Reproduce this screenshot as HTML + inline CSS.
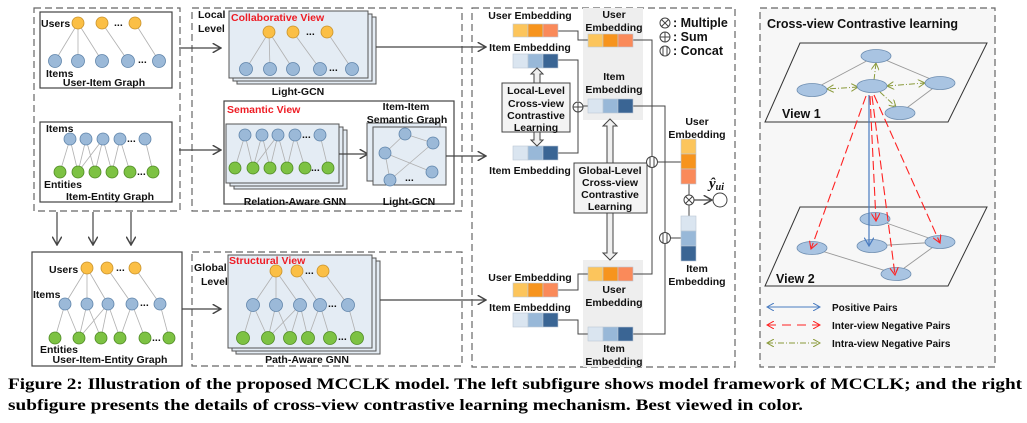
<!DOCTYPE html>
<html><head><meta charset="utf-8"><style>
html,body{margin:0;padding:0;background:#fff;}
svg{display:block;}
text{font-family:"Liberation Sans",sans-serif;font-weight:bold;font-size:10.5px;fill:#111;}
.r{fill:#ee1c24;}
.cap{font-family:"Liberation Serif",serif;font-size:16px;fill:#000;}
.u{fill:#fbbf45;stroke:#c8922c;stroke-width:.8}
.i{fill:#9bb9d8;stroke:#5f84aa;stroke-width:.8}
.e{fill:#7dc243;stroke:#4f8a24;stroke-width:.8}
.ed line{stroke:#b0b0b0;stroke-width:.8}
.dash{fill:none;stroke:#666;stroke-width:1.2;stroke-dasharray:7,4}
.bx{fill:#fff;stroke:#444;stroke-width:1.2}
.st{fill:#e4ecf4;stroke:#555;stroke-width:1}
.ln{fill:none;stroke:#444;stroke-width:1.2}
.c1{fill:#fcc55c}.c2{fill:#f7941d}.c3{fill:#fa8a5a}
.b1{fill:#dae5f0}.b2{fill:#98b8d8}.b3{fill:#3a6594}
</style></head><body>
<svg width="1027" height="423" viewBox="0 0 1027 423" xmlns="http://www.w3.org/2000/svg">
<defs>
<marker id="ar" markerWidth="8" markerHeight="8" refX="7" refY="4" orient="auto"><path d="M0,0 L7,4 L0,8" fill="none" stroke="#444" stroke-width="1.2"/></marker>
<marker id="arb" markerWidth="8" markerHeight="8" refX="7" refY="4" orient="auto-start-reverse"><path d="M0,0 L7,4 L0,8" fill="none" stroke="#4a7cc0" stroke-width="1"/></marker>
<marker id="arr" markerWidth="8" markerHeight="8" refX="7" refY="4" orient="auto-start-reverse"><path d="M0,0 L7,4 L0,8" fill="none" stroke="#f22" stroke-width="1"/></marker>
<marker id="arg" markerWidth="8" markerHeight="8" refX="7" refY="4" orient="auto-start-reverse"><path d="M0,0 L7,4 L0,8" fill="none" stroke="#8a9a3a" stroke-width="1"/></marker>
</defs>

<rect class="dash" x="34" y="8" width="146" height="203"/>
<rect class="bx" x="40" y="12" width="132" height="76"/>
<g class="ed">
<line x1="78" y1="23" x2="55" y2="61"/><line x1="78" y1="23" x2="78" y2="61"/><line x1="78" y1="23" x2="102" y2="61"/>
<line x1="102" y1="23" x2="128" y2="61"/><line x1="135" y1="23" x2="159" y2="61"/>
</g>
<circle class="u" cx="78" cy="23" r="6"/><circle class="u" cx="102" cy="23" r="6"/><circle class="u" cx="135" cy="23" r="6"/>
<text x="114" y="26">...</text>
<circle class="i" cx="55" cy="61" r="6.5"/><circle class="i" cx="78" cy="61" r="6.5"/><circle class="i" cx="102" cy="61" r="6.5"/><circle class="i" cx="128" cy="61" r="6.5"/><circle class="i" cx="159" cy="61" r="6.5"/>
<text x="138" y="63">...</text>
<text x="41" y="27">Users</text><text x="46" y="77">Items</text>
<text x="104" y="86" text-anchor="middle">User-Item Graph</text>

<rect class="bx" x="40" y="122" width="132" height="80"/>
<g class="ed">
<line x1="70" y1="139" x2="60" y2="172"/><line x1="70" y1="139" x2="78" y2="172"/><line x1="86" y1="139" x2="78" y2="172"/><line x1="86" y1="139" x2="95" y2="172"/>
<line x1="103" y1="139" x2="78" y2="172"/><line x1="103" y1="139" x2="112" y2="172"/><line x1="103" y1="139" x2="95" y2="172"/><line x1="120" y1="139" x2="112" y2="172"/><line x1="120" y1="139" x2="130" y2="172"/><line x1="145" y1="139" x2="153" y2="172"/>
</g>
<circle class="i" cx="70" cy="139" r="6"/><circle class="i" cx="86" cy="139" r="6"/><circle class="i" cx="103" cy="139" r="6"/><circle class="i" cx="120" cy="139" r="6"/><circle class="i" cx="145" cy="139" r="6"/>
<text x="127" y="142">...</text>
<circle class="e" cx="60" cy="172" r="6"/><circle class="e" cx="78" cy="172" r="6"/><circle class="e" cx="95" cy="172" r="6"/><circle class="e" cx="112" cy="172" r="6"/><circle class="e" cx="130" cy="172" r="6"/><circle class="e" cx="153" cy="172" r="6"/>
<text x="137" y="175">...</text>
<text x="46" y="132">Items</text><text x="44" y="188">Entities</text>
<text x="110" y="200" text-anchor="middle">Item-Entity Graph</text>

<line class="ln" x1="57" y1="212" x2="57" y2="245" marker-end="url(#ar)"/>
<line class="ln" x1="93" y1="212" x2="93" y2="245" marker-end="url(#ar)"/>
<line class="ln" x1="131" y1="212" x2="131" y2="245" marker-end="url(#ar)"/>

<rect class="dash" x="192" y="8" width="270" height="203"/>
<text x="198" y="18">Local</text><text x="198" y="32">Level</text>
<line class="ln" x1="179" y1="48" x2="221" y2="48" marker-end="url(#ar)"/>
<rect class="st" x="237" y="17" width="139" height="67"/>
<rect class="st" x="233" y="14" width="139" height="67"/>
<rect class="st" x="229" y="11" width="139" height="67"/>
<text class="r" x="231" y="21">Collaborative View</text>
<g class="ed">
<line x1="269" y1="32" x2="246" y2="69"/><line x1="269" y1="32" x2="270" y2="69"/><line x1="269" y1="32" x2="293" y2="69"/><line x1="293" y1="32" x2="320" y2="69"/><line x1="327" y1="32" x2="352" y2="69"/>
</g>
<circle class="u" cx="269" cy="32" r="6"/><circle class="u" cx="293" cy="32" r="6"/><circle class="u" cx="327" cy="32" r="6"/>
<text x="306" y="35">...</text>
<circle class="i" cx="246" cy="69" r="6.5"/><circle class="i" cx="270" cy="69" r="6.5"/><circle class="i" cx="293" cy="69" r="6.5"/><circle class="i" cx="320" cy="69" r="6.5"/><circle class="i" cx="352" cy="69" r="6.5"/>
<text x="329" y="71">...</text>
<text x="298" y="95" text-anchor="middle">Light-GCN</text>
<line class="ln" x1="376" y1="47" x2="486" y2="47" marker-end="url(#ar)"/>

<line class="ln" x1="179" y1="150" x2="221" y2="150" marker-end="url(#ar)"/>
<rect class="bx" x="224" y="101" width="230" height="103"/>
<text class="r" x="227" y="113">Semantic View</text>
<rect class="st" x="234" y="130" width="113" height="59"/>
<rect class="st" x="230" y="127" width="113" height="59"/>
<rect class="st" x="226" y="124" width="113" height="59"/>
<g class="ed">
<line x1="245" y1="135" x2="235" y2="168"/><line x1="245" y1="135" x2="253" y2="168"/><line x1="262" y1="135" x2="253" y2="168"/><line x1="262" y1="135" x2="270" y2="168"/><line x1="278" y1="135" x2="253" y2="168"/><line x1="278" y1="135" x2="287" y2="168"/><line x1="278" y1="135" x2="270" y2="168"/><line x1="295" y1="135" x2="287" y2="168"/><line x1="295" y1="135" x2="305" y2="168"/><line x1="320" y1="135" x2="328" y2="168"/>
</g>
<circle class="i" cx="245" cy="135" r="6"/><circle class="i" cx="262" cy="135" r="6"/><circle class="i" cx="278" cy="135" r="6"/><circle class="i" cx="295" cy="135" r="6"/><circle class="i" cx="320" cy="135" r="6"/>
<text x="302" y="138">...</text>
<circle class="e" cx="235" cy="168" r="6"/><circle class="e" cx="253" cy="168" r="6"/><circle class="e" cx="270" cy="168" r="6"/><circle class="e" cx="287" cy="168" r="6"/><circle class="e" cx="305" cy="168" r="6"/><circle class="e" cx="328" cy="168" r="6"/>
<text x="311" y="171">...</text>
<text x="295" y="205" text-anchor="middle">Relation-Aware GNN</text>
<line class="ln" x1="339" y1="154" x2="368" y2="154" marker-end="url(#ar)"/>
<rect class="st" x="367" y="123" width="73" height="58"/>
<rect class="st" x="373" y="127" width="73" height="58"/>
<g class="ed">
<line x1="405" y1="134" x2="385" y2="153"/><line x1="405" y1="134" x2="433" y2="143"/><line x1="385" y1="153" x2="432" y2="172"/><line x1="385" y1="153" x2="390" y2="180"/><line x1="433" y1="143" x2="390" y2="180"/>
</g>
<circle class="i" cx="405" cy="134" r="6"/><circle class="i" cx="433" cy="143" r="6"/><circle class="i" cx="385" cy="153" r="6"/><circle class="i" cx="432" cy="172" r="6"/><circle class="i" cx="390" cy="180" r="6"/>
<text x="405" y="181">...</text>
<text x="406" y="110" text-anchor="middle">Item-Item</text>
<text x="407" y="123" text-anchor="middle">Semantic Graph</text>
<text x="409" y="205" text-anchor="middle">Light-GCN</text>
<line class="ln" x1="446" y1="156" x2="486" y2="156" marker-end="url(#ar)"/>

<rect class="bx" x="32" y="252" width="150" height="114"/>
<g class="ed">
<line x1="87" y1="268" x2="65" y2="304"/><line x1="87" y1="268" x2="87" y2="304"/><line x1="87" y1="268" x2="108" y2="304"/><line x1="107" y1="268" x2="132" y2="304"/><line x1="135" y1="268" x2="160" y2="304"/>
<line x1="65" y1="304" x2="55" y2="338"/><line x1="65" y1="304" x2="79" y2="338"/><line x1="87" y1="304" x2="79" y2="338"/><line x1="87" y1="304" x2="101" y2="338"/><line x1="108" y1="304" x2="79" y2="338"/><line x1="108" y1="304" x2="120" y2="338"/><line x1="108" y1="304" x2="101" y2="338"/><line x1="132" y1="304" x2="120" y2="338"/><line x1="132" y1="304" x2="145" y2="338"/><line x1="160" y1="304" x2="169" y2="338"/>
</g>
<circle class="u" cx="87" cy="268" r="6"/><circle class="u" cx="107" cy="268" r="6"/><circle class="u" cx="135" cy="268" r="6"/>
<text x="116" y="271">...</text>
<circle class="i" cx="65" cy="304" r="6"/><circle class="i" cx="87" cy="304" r="6"/><circle class="i" cx="108" cy="304" r="6"/><circle class="i" cx="132" cy="304" r="6"/><circle class="i" cx="160" cy="304" r="6"/>
<text x="140" y="306">...</text>
<circle class="e" cx="55" cy="338" r="6"/><circle class="e" cx="79" cy="338" r="6"/><circle class="e" cx="101" cy="338" r="6"/><circle class="e" cx="120" cy="338" r="6"/><circle class="e" cx="145" cy="338" r="6"/><circle class="e" cx="169" cy="338" r="6"/>
<text x="152" y="341">...</text>
<text x="49" y="273">Users</text><text x="33" y="298">Items</text><text x="40" y="353">Entities</text>
<text x="110" y="363" text-anchor="middle">User-Item-Entity Graph</text>

<rect class="dash" x="192" y="252" width="270" height="114"/>
<text x="194" y="271">Global</text><text x="201" y="285">Level</text>
<line class="ln" x1="182" y1="309" x2="221" y2="309" marker-end="url(#ar)"/>
<rect class="st" x="236" y="261" width="144" height="93"/>
<rect class="st" x="232" y="258" width="144" height="93"/>
<rect class="st" x="228" y="255" width="144" height="93"/>
<text class="r" x="229" y="264">Structural View</text>
<g class="ed">
<line x1="276" y1="271" x2="253" y2="305"/><line x1="276" y1="271" x2="276" y2="305"/><line x1="276" y1="271" x2="300" y2="305"/><line x1="297" y1="271" x2="320" y2="305"/><line x1="323" y1="271" x2="348" y2="305"/>
<line x1="253" y1="305" x2="243" y2="338"/><line x1="253" y1="305" x2="268" y2="338"/><line x1="276" y1="305" x2="268" y2="338"/><line x1="276" y1="305" x2="290" y2="338"/><line x1="300" y1="305" x2="268" y2="338"/><line x1="300" y1="305" x2="308" y2="338"/><line x1="300" y1="305" x2="290" y2="338"/><line x1="320" y1="305" x2="308" y2="338"/><line x1="320" y1="305" x2="330" y2="338"/><line x1="348" y1="305" x2="357" y2="338"/>
</g>
<circle class="u" cx="276" cy="271" r="6"/><circle class="u" cx="297" cy="271" r="6"/><circle class="u" cx="323" cy="271" r="6"/>
<text x="305" y="274">...</text>
<circle class="i" cx="253" cy="305" r="6.5"/><circle class="i" cx="276" cy="305" r="6.5"/><circle class="i" cx="300" cy="305" r="6.5"/><circle class="i" cx="320" cy="305" r="6.5"/><circle class="i" cx="348" cy="305" r="6.5"/>
<text x="328" y="307">...</text>
<circle class="e" cx="243" cy="338" r="6.5"/><circle class="e" cx="268" cy="338" r="6.5"/><circle class="e" cx="290" cy="338" r="6.5"/><circle class="e" cx="308" cy="338" r="6.5"/><circle class="e" cx="330" cy="338" r="6.5"/><circle class="e" cx="357" cy="338" r="6.5"/>
<text x="338" y="340">...</text>
<text x="307" y="363" text-anchor="middle">Path-Aware GNN</text>
<line class="ln" x1="380" y1="300" x2="486" y2="300" marker-end="url(#ar)"/>

<rect class="dash" x="472" y="8" width="263" height="359"/>
<rect x="583" y="8" width="60" height="112" fill="#eeeeee"/>
<rect x="583" y="260" width="60" height="107" fill="#eeeeee"/>
<g stroke="#444" stroke-width="1" fill="none">
<polyline points="558,31 578,31 578,40 588,40"/>
<polyline points="558,60 578,60 578,101"/>
<polyline points="558,153 578,153 578,112"/>
<line x1="583" y1="106" x2="588" y2="106"/>
<polyline points="633,40 652,40 652,274 633,274"/>
<polyline points="633,106 665,106 665,334 633,334"/>
<line x1="658" y1="162" x2="681" y2="162"/>
<line x1="671" y1="238" x2="681" y2="238"/>
<line x1="689" y1="184" x2="689" y2="195"/><line x1="689" y1="205" x2="689" y2="216"/>
<polyline points="558,290 578,290 578,274 588,274"/>
<polyline points="558,320 578,320 578,334 588,334"/>
</g>
<line class="ln" x1="694" y1="200" x2="712" y2="200" marker-end="url(#ar)"/>
<circle cx="720" cy="200" r="7" fill="#fff" stroke="#444"/>
<text x="709" y="188" style="font-family:'Liberation Serif',serif;font-style:italic;font-size:15px">ŷ<tspan font-size="10" dy="2">ui</tspan></text>

<g stroke="#bcc9d6" stroke-width=".6">
<rect class="c1" x="513" y="24" width="15" height="13"/><rect class="c2" x="528" y="24" width="15" height="13"/><rect class="c3" x="543" y="24" width="15" height="13"/>
<rect class="b1" x="513" y="54" width="15" height="14"/><rect class="b2" x="528" y="54" width="15" height="14"/><rect class="b3" x="543" y="54" width="15" height="14"/>
<rect class="b1" x="513" y="146" width="15" height="14"/><rect class="b2" x="528" y="146" width="15" height="14"/><rect class="b3" x="543" y="146" width="15" height="14"/>
<rect class="c1" x="588" y="34" width="15" height="13"/><rect class="c2" x="603" y="34" width="15" height="13"/><rect class="c3" x="618" y="34" width="15" height="13"/>
<rect class="b1" x="588" y="99" width="15" height="14"/><rect class="b2" x="603" y="99" width="15" height="14"/><rect class="b3" x="618" y="99" width="15" height="14"/>
<rect class="c1" x="513" y="283" width="15" height="14"/><rect class="c2" x="528" y="283" width="15" height="14"/><rect class="c3" x="543" y="283" width="15" height="14"/>
<rect class="b1" x="513" y="313" width="15" height="14"/><rect class="b2" x="528" y="313" width="15" height="14"/><rect class="b3" x="543" y="313" width="15" height="14"/>
<rect class="c1" x="588" y="267" width="15" height="14"/><rect class="c2" x="603" y="267" width="15" height="14"/><rect class="c3" x="618" y="267" width="15" height="14"/>
<rect class="b1" x="588" y="327" width="15" height="14"/><rect class="b2" x="603" y="327" width="15" height="14"/><rect class="b3" x="618" y="327" width="15" height="14"/>
<rect class="c1" x="681" y="139" width="15" height="15"/><rect class="c2" x="681" y="154" width="15" height="15"/><rect class="c3" x="681" y="169" width="15" height="15"/>
<rect class="b1" x="681" y="216" width="15" height="15"/><rect class="b2" x="681" y="231" width="15" height="15"/><rect class="b3" x="681" y="246" width="15" height="15"/>
</g>
<text x="530" y="19" text-anchor="middle">User Embedding</text>
<text x="530" y="51" text-anchor="middle">Item Embedding</text>
<text x="530" y="174" text-anchor="middle">Item Embedding</text>
<text x="614" y="18" text-anchor="middle">User</text><text x="614" y="31" text-anchor="middle">Embedding</text>
<text x="614" y="80" text-anchor="middle">Item</text><text x="614" y="93" text-anchor="middle">Embedding</text>
<text x="697" y="125" text-anchor="middle">User</text><text x="697" y="138" text-anchor="middle">Embedding</text>
<text x="697" y="272" text-anchor="middle">Item</text><text x="697" y="285" text-anchor="middle">Embedding</text>
<text x="530" y="281" text-anchor="middle">User Embedding</text>
<text x="530" y="311" text-anchor="middle">Item Embedding</text>
<text x="614" y="293" text-anchor="middle">User</text><text x="614" y="306" text-anchor="middle">Embedding</text>
<text x="614" y="352" text-anchor="middle">Item</text><text x="614" y="365" text-anchor="middle">Embedding</text>

<g fill="#f0f0f0" stroke="#444" stroke-width="1">
<path d="M534,83 V74 H531 L537,68 L543,74 H540 V83 Z"/>
<path d="M534,132 V140 H531 L537,146 L543,140 H540 V132 Z"/>
<path d="M607,163 V126 H603 L610,119 L617,126 H613 V163 Z"/>
<path d="M607,213 V253 H603 L610,260 L617,253 H613 V213 Z"/>
</g>
<rect x="502" y="83" width="68" height="49" fill="#f4f4f4" stroke="#444"/>
<text x="536" y="94" text-anchor="middle">Local-Level</text><text x="536" y="107" text-anchor="middle">Cross-view</text><text x="536" y="119" text-anchor="middle">Contrastive</text><text x="536" y="131" text-anchor="middle">Learning</text>
<rect x="574" y="163" width="73" height="50" fill="#f4f4f4" stroke="#444"/>
<text x="610" y="174" text-anchor="middle">Global-Level</text><text x="610" y="186" text-anchor="middle">Cross-view</text><text x="610" y="198" text-anchor="middle">Contrastive</text><text x="610" y="210" text-anchor="middle">Learning</text>

<g fill="#fff" stroke="#444" stroke-width="1">
<circle cx="578" cy="107" r="5"/><line x1="573" y1="107" x2="583" y2="107"/><line x1="578" y1="102" x2="578" y2="112"/>
<circle cx="652" cy="162" r="5.5"/><line x1="650" y1="157" x2="650" y2="167"/><line x1="654" y1="157" x2="654" y2="167"/>
<circle cx="665" cy="238" r="5.5"/><line x1="663" y1="233" x2="663" y2="243"/><line x1="667" y1="233" x2="667" y2="243"/>
<circle cx="689" cy="200" r="5"/><line x1="685.5" y1="196.5" x2="692.5" y2="203.5"/><line x1="692.5" y1="196.5" x2="685.5" y2="203.5"/>
<circle cx="665" cy="23" r="5"/><line x1="661.5" y1="19.5" x2="668.5" y2="26.5"/><line x1="668.5" y1="19.5" x2="661.5" y2="26.5"/>
<circle cx="665" cy="37" r="5"/><line x1="660" y1="37" x2="670" y2="37"/><line x1="665" y1="32" x2="665" y2="42"/>
<circle cx="665" cy="51" r="5"/><line x1="663" y1="46" x2="663" y2="56"/><line x1="667" y1="46" x2="667" y2="56"/>
</g>
<text x="673" y="27" style="font-size:12.5px">:  Multiple</text>
<text x="673" y="41" style="font-size:12.5px">:  Sum</text>
<text x="673" y="55" style="font-size:12.5px">:  Concat</text>

<rect x="760" y="8" width="235" height="359" fill="#f7f7f7" stroke="#666" stroke-width="1.2" stroke-dasharray="7,4"/>
<text x="767" y="28" style="font-size:12.5px">Cross-view Contrastive learning</text>
<polygon points="800,43 987,43 948,122 765,122" fill="#f7f7f7" stroke="#333"/>
<polygon points="800,207 987,207 948,286 765,286" fill="#f7f7f7" stroke="#333"/>
<g stroke="#999" stroke-width=".9">
<line x1="812" y1="90" x2="876" y2="56"/><line x1="876" y1="56" x2="940" y2="83"/><line x1="940" y1="83" x2="900" y2="113"/>
<line x1="875" y1="219" x2="940" y2="242"/><line x1="872" y1="246" x2="940" y2="242"/><line x1="812" y1="248" x2="896" y2="274"/><line x1="896" y1="274" x2="940" y2="242"/>
</g>
<g stroke="#8a9a3a" stroke-width="1" stroke-dasharray="6,2,1,2" fill="none">
<line x1="858" y1="87" x2="827" y2="89" marker-end="url(#arg)" marker-start="url(#arg)"/>
<line x1="887" y1="86" x2="925" y2="83" marker-end="url(#arg)" marker-start="url(#arg)"/>
<line x1="874" y1="80" x2="876" y2="63" marker-end="url(#arg)"/>
<line x1="880" y1="92" x2="896" y2="107" marker-end="url(#arg)"/>
</g>
<g fill="#a9c4e2" stroke="#6d8db0" stroke-width=".8">
<ellipse cx="876" cy="56" rx="15" ry="6.5"/><ellipse cx="812" cy="90" rx="15" ry="6.5"/><ellipse cx="872" cy="86" rx="15" ry="6.5"/><ellipse cx="940" cy="83" rx="15" ry="6.5"/><ellipse cx="900" cy="113" rx="15" ry="6.5"/>
<ellipse cx="875" cy="219" rx="15" ry="6.5"/><ellipse cx="812" cy="248" rx="15" ry="6.5"/><ellipse cx="872" cy="246" rx="15" ry="6.5"/><ellipse cx="940" cy="242" rx="15" ry="6.5"/><ellipse cx="896" cy="274" rx="15" ry="6.5"/>
</g>
<line x1="869" y1="95" x2="869" y2="246" stroke="#4a7cc0" stroke-width="1.2" marker-end="url(#arb)"/>
<g stroke="#f22" stroke-width="1.1" stroke-dasharray="9,4" fill="none">
<line x1="866" y1="96" x2="811" y2="249" marker-end="url(#arr)"/>
<line x1="870" y1="96" x2="876" y2="221" marker-end="url(#arr)"/>
<line x1="872" y1="96" x2="895" y2="275" marker-end="url(#arr)"/>
<line x1="874" y1="95" x2="940" y2="243" marker-end="url(#arr)"/>
</g>
<text x="782" y="118" style="font-size:12.5px">View 1</text>
<text x="776" y="283" style="font-size:12.5px">View 2</text>
<line x1="767" y1="307" x2="820" y2="307" stroke="#4a7cc0" marker-end="url(#arb)" marker-start="url(#arb)"/>
<line x1="767" y1="325" x2="820" y2="325" stroke="#f22" stroke-dasharray="9,6" marker-end="url(#arr)" marker-start="url(#arr)"/>
<line x1="767" y1="343" x2="820" y2="343" stroke="#8a9a3a" stroke-dasharray="6,2,1,2" marker-end="url(#arg)" marker-start="url(#arg)"/>
<text x="832" y="311" style="font-size:10px">Positive Pairs</text>
<text x="832" y="329" style="font-size:10px">Inter-view Negative Pairs</text>
<text x="832" y="347" style="font-size:10px">Intra-view Negative Pairs</text>

<text class="cap" x="8" y="389" textLength="1014" lengthAdjust="spacingAndGlyphs">Figure 2: Illustration of the proposed MCCLK model. The left subfigure shows model framework of MCCLK; and the right</text>
<text class="cap" x="8" y="410" textLength="795" lengthAdjust="spacingAndGlyphs">subfigure presents the details of cross-view contrastive learning mechanism. Best viewed in color.</text>
</svg>
</body></html>
